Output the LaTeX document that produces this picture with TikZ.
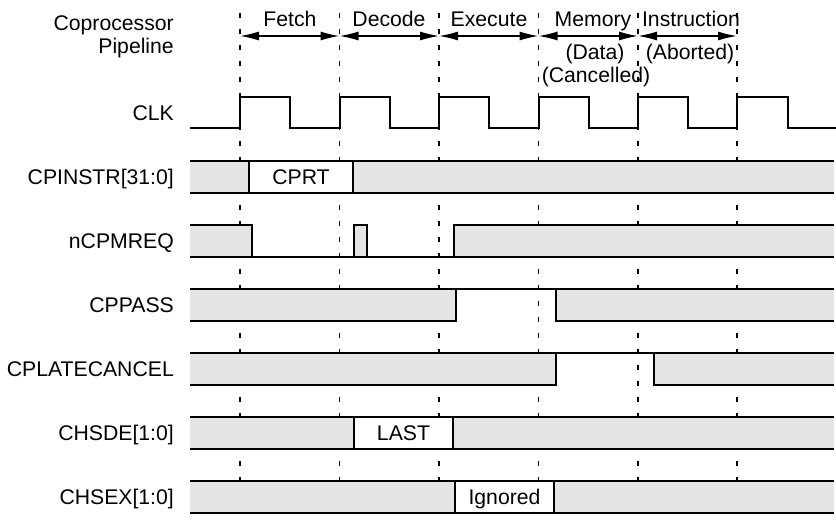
\documentclass[tikz,border=0pt]{standalone}
\usepackage{fontspec}
\setmainfont{Liberation Sans}
\usetikzlibrary{arrows.meta}
\definecolor{sig}{RGB}{228,228,228}
\begin{document}
\begin{tikzpicture}[x=1pt,y=-1pt,
  lbl/.style={anchor=base east, font=\fontsize{21.2}{24}\selectfont, inner sep=0pt},
  txt/.style={anchor=base, font=\fontsize{21.2}{24}\selectfont, inner sep=0pt},
  wave/.style={line width=2pt, line join=miter},
  gridline/.style={line width=1.4pt, dash pattern=on 5pt off 11pt},
  span/.style={line width=1.4pt, {Latex[length=19pt,width=9pt]}-{Latex[length=19pt,width=9pt]}},
  sigfill/.style={fill=sig},
  datafill/.style={fill=white}
]
\useasboundingbox (0,0) rectangle (836,521);
\fill[white] (0,0) rectangle (836,521);

% phase boundaries
\foreach \i/\x in {0/240,1/339.5,2/439,3/538.5,4/638,5/737}{
  \coordinate (t\i) at (\x,36);
  \coordinate (b\i) at (\x,521);
  \coordinate (u\i) at (\x,13);
  \draw[gridline] (u\i) -- (b\i);
}
\draw[span] (t0) -- (t1);
\draw[span] (t1) -- (t2);
\draw[span] (t2) -- (t3);
\draw[span] (t3) -- (t4);
\draw[span] (t4) -- (t5);

% header texts
\node[lbl] (cp1) at (174,30.5) {Coprocessor};
\node[lbl] (cp2) at (174,54) {Pipeline};
\node[txt] (fetch) at (290,27) {Fetch};
\node[txt] (decode) at (389,27) {Decode};
\node[txt] (execute) at (489,27) {Execute};
\node[txt] (memory) at (593,27) {Memory};
\node[txt] (instr) at (691,27) {Instruction};
\node[txt] (data) at (595,60) {(Data)};
\node[txt] (abort) at (690,60) {(Aborted)};
\node[txt] (cancel) at (596,83) {(Cancelled)};

% signal labels
\node[lbl] (lclk) at (174,121) {CLK};
\node[lbl] (l1) at (174,184.5) {CPINSTR[31:0]};
\node[lbl] (l2) at (174,248.5) {nCPMREQ};
\node[lbl] (l3) at (174,312.5) {CPPASS};
\node[lbl] (l4) at (174,376.5) {CPLATECANCEL};
\node[lbl] (l5) at (174,440.5) {CHSDE[1:0]};
\node[lbl] (l6) at (174,504.5) {CHSEX[1:0]};

% CLK
\draw[wave] (190,128)
  \foreach \r/\f in {240/290,339.5/389.5,439/489,538.5/588.5,638/688,737/788}{
    -- (\r,128) -- (\r,97) -- (\f,97) -- (\f,128)} -- (836,128);

% CPINSTR
\fill[sigfill] (190,161) rectangle (249,193);
\fill[datafill] (249,161) rectangle (353,193);
\fill[sigfill] (353,161) rectangle (834,193);
\draw[wave] (190,161) -- (834,161);
\draw[wave] (190,193) -- (834,193);
\draw[wave] (249,161) -- (249,193);
\draw[wave] (353,161) -- (353,193);
\node[txt] (cprt) at (301,184.5) {CPRT};

% nCPMREQ
\fill[sigfill] (190,225) rectangle (252,257);
\fill[sigfill] (354,225) rectangle (367,257);
\fill[sigfill] (454,225) rectangle (834,257);
\draw[wave] (190,225) -- (252,225) -- (252,257);
\draw[wave] (190,257) -- (834,257);
\draw[wave] (354,257) -- (354,225) -- (367,225) -- (367,257);
\draw[wave] (454,257) -- (454,225) -- (834,225);

% CPPASS
\fill[sigfill] (190,289) rectangle (456,321);
\fill[sigfill] (556,289) rectangle (834,321);
\draw[wave] (190,289) -- (834,289);
\draw[wave] (190,321) -- (456,321) -- (456,289);
\draw[wave] (556,289) -- (556,321) -- (834,321);

% CPLATECANCEL
\fill[sigfill] (190,353) rectangle (556,385);
\fill[sigfill] (654,353) rectangle (834,385);
\draw[wave] (190,353) -- (834,353);
\draw[wave] (190,385) -- (556,385) -- (556,353);
\draw[wave] (654,353) -- (654,385) -- (834,385);

% CHSDE
\fill[sigfill] (190,417) rectangle (354,449);
\fill[datafill] (354,417) rectangle (453,449);
\fill[sigfill] (453,417) rectangle (834,449);
\draw[wave] (190,417) -- (834,417);
\draw[wave] (190,449) -- (834,449);
\draw[wave] (354,417) -- (354,449);
\draw[wave] (453,417) -- (453,449);
\node[txt] (last) at (403.5,440.5) {LAST};

% CHSEX
\fill[sigfill] (190,481) rectangle (455,513);
\fill[datafill] (455,481) rectangle (554,513);
\fill[sigfill] (554,481) rectangle (834,513);
\draw[wave] (190,481) -- (834,481);
\draw[wave] (190,513) -- (834,513);
\draw[wave] (455,481) -- (455,513);
\draw[wave] (554,481) -- (554,513);
\node[txt] (ign) at (504.5,504.5) {Ignored};
\end{tikzpicture}
\end{document}
